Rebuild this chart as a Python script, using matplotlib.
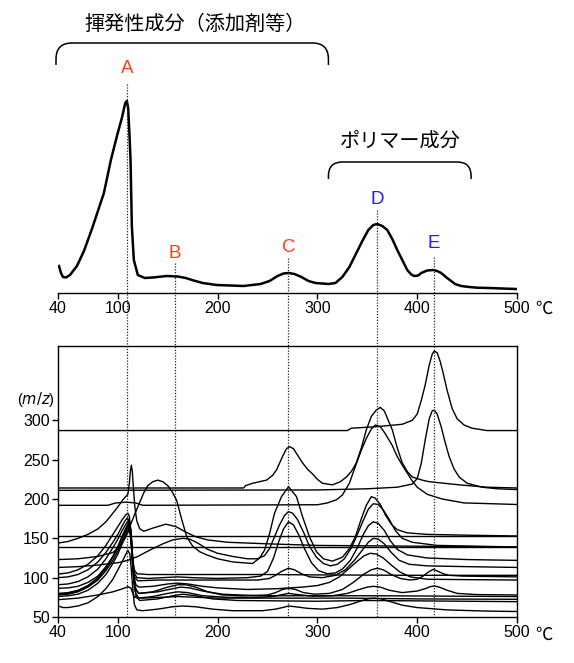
import matplotlib
matplotlib.use('Agg')
import matplotlib.pyplot as plt
from matplotlib.path import Path
from matplotlib.patches import PathPatch
from matplotlib.lines import Line2D
import matplotlib.transforms as mtransforms

plt.rcParams['font.family'] = ['Liberation Sans', 'Noto Sans CJK JP', 'DejaVu Sans']
JP = ['Noto Sans CJK JP', 'DejaVu Sans']

# ---------------- data ----------------
x_ticks = [40, 100, 200, 300, 400, 500]
y_ticks = [50, 100, 150, 200, 250, 300]

peak_labels = ['A', 'B', 'C', 'D', 'E']
peak_temps = [109, 157, 271, 360, 417]
peak_colors = ['#ff3c1e', '#ff3c1e', '#ff3c1e', '#1e1eff', '#1e1eff']

group_titles = ['揮発性成分（添加剤等）', 'ポリマー成分']
group_ranges = [(38, 311), (311, 454)]

# total ion curve (temperature, height)
top_curve = [(41, 27), (43, 20), (45, 16), (48, 15.5), (52, 18), (59, 27), (66, 42), (74, 64),
             (80, 82), (86, 100), (93, 133), (99.6, 159), (104, 175), (107.4, 190), (109, 192),
             (110.3, 185), (111.6, 159), (112.7, 133), (114, 67), (116, 33), (120, 18), (127, 15),
             (135, 15.5), (149, 17), (160, 16.5), (168, 15), (176, 12.5), (185, 10), (199, 8),
             (226, 7), (243, 9), (252, 12), (260, 17), (266, 19.5), (271, 20), (277, 19), (284, 16),
             (291, 12), (298, 10), (311, 9), (318, 10), (325, 16), (332, 26), (339, 40), (345, 52),
             (351, 63), (356, 68), (360, 69), (365, 67), (370, 63), (375, 54), (380, 43), (385, 33),
             (390, 23), (394, 18.5), (397, 17), (401, 17.5), (404, 20), (410, 22.5), (416, 23),
             (420, 22), (424, 20), (430, 15), (438, 9), (444, 7), (452, 6), (460, 5.3), (472, 5),
             (485, 4.5), (499, 4)]

# extracted ion traces (temperature, m/z offset)
mz286 = [(40, 287), (330, 287), (334, 290), (360, 292), (385, 295), (395, 300), (400, 308), (404, 325),
         (408, 345), (412, 370), (415, 384), (417, 388), (420, 386), (423, 375), (426, 360), (430, 338),
         (435, 315), (440, 302), (447, 294), (455, 290), (465, 288), (470, 287), (500, 287)]
mz214 = [(40, 214), (226, 214), (228, 217), (235, 220), (249, 224), (255, 230), (259, 237), (265, 254),
         (269, 264), (272, 266.5), (276, 264), (280, 256), (285, 246), (290, 238), (295, 232), (300, 225),
         (305, 220), (315, 218), (323, 222), (329, 228), (334, 235), (339, 246), (344, 265), (349, 288),
         (354, 305), (359, 313), (363, 316.5), (367, 312), (371, 300), (375, 288), (380, 265), (385, 246),
         (390, 235), (395, 228), (405, 224), (412, 222), (442, 218), (470, 215), (500, 214)]
mz211 = [(40, 211), (300, 211.5), (350, 213), (380, 215), (395, 219), (400, 226), (404, 245), (408, 275),
         (412, 302), (415, 312), (417, 313), (420, 308), (424, 292), (428, 272), (432, 254), (437, 238),
         (442, 228), (450, 220), (465, 215), (480, 213), (500, 212)]
mz192 = [(40, 192), (90, 192), (98, 195), (108, 196), (118, 195), (125, 192), (300, 192.7), (310, 195),
         (319, 199), (325, 205), (332, 220), (339, 245), (344, 262), (349, 277), (354, 289), (358, 294),
         (363, 292), (368, 283), (375, 268), (380, 254), (385, 243), (390, 233), (395, 223), (400, 215),
         (410, 206), (425, 200), (447, 195), (475, 194), (500, 193)]
mz_spike = [(40, 144), (50, 146), (60, 150), (70, 155), (80, 162), (88, 171), (95, 182), (100, 190),
            (105, 199), (110, 206), (111.5, 220), (112.5, 235), (113.5, 243), (114.5, 235), (115.5, 215),
            (117, 190), (119, 172), (122, 162), (126, 159), (135, 163), (148, 168), (158, 165), (168, 158),
            (178, 152), (190, 148), (210, 145), (250, 143), (300, 141), (400, 140), (500, 139)]
mz152 = [(40, 152.5), (500, 152.5)]
mz138 = [(40, 138.5), (500, 138.5)]
mz123 = [(40, 123), (60, 124), (80, 127), (95, 132), (102, 140), (108, 152), (112, 165), (117, 181),
         (122, 196), (126, 208), (130, 217), (135, 222), (140, 224), (145, 222), (150, 217), (154, 210),
         (159, 198), (164, 174), (169, 152), (175, 140), (182, 133), (189, 129), (200, 124), (215, 120),
         (235, 118), (242, 125), (247, 135), (252, 156), (257, 182), (264, 203), (271, 215.7), (279, 203),
         (285, 178), (292, 152), (299, 133), (306, 124), (315, 121), (325, 126), (332, 137), (338, 152),
         (344, 175), (349, 192), (354, 203), (358, 201), (363, 193), (368, 180), (374, 168), (380, 161),
         (390, 157), (410, 155), (450, 154), (500, 153)]
mz113 = [(40, 113), (60, 114), (80, 116), (100, 119), (110, 122), (120, 127), (132, 135), (145, 143),
         (155, 148), (165, 150), (172, 149), (180, 144), (190, 136), (200, 131), (215, 127), (230, 124),
         (240, 124), (247, 128), (252, 137), (257, 152), (262, 167), (267, 179), (271, 184), (275, 182),
         (280, 174), (286, 158), (292, 140), (299, 126), (306, 118), (313, 115), (320, 117), (327, 124),
         (334, 138), (340, 155), (346, 173), (351, 187), (356, 194), (361, 193), (366, 186), (372, 174),
         (378, 160), (385, 150), (395, 145), (420, 141), (460, 140), (500, 139)]
mz104 = [(40, 104.6), (50, 106), (60, 110), (70, 117), (80, 128), (88, 141), (95, 155), (100, 165),
         (104, 173), (108, 180), (110, 182), (111.5, 178), (113, 160), (114, 140), (115, 122), (116.5, 110),
         (119, 105), (130, 104), (160, 104), (200, 104), (250, 104), (300, 103.5), (400, 103), (500, 103)]
mz100 = [(40, 100), (50, 101), (60, 104), (70, 110), (80, 120), (88, 132), (95, 145), (100, 155),
         (104, 165), (107, 172), (109.5, 176), (111.5, 172), (113, 160), (114, 140), (115, 120), (116.5, 106),
         (119, 100), (130, 99), (160, 101), (175, 100), (200, 99), (230, 100), (243, 102), (250, 108),
         (256, 125), (261, 145), (266, 162), (271, 171), (276, 167), (281, 155), (287, 137), (294, 119),
         (301, 109), (310, 105), (318, 106), (325, 111), (333, 122), (340, 138), (346, 155), (351, 166),
         (356, 171), (361, 169), (367, 160), (373, 147), (380, 136), (390, 129), (410, 125), (450, 123),
         (500, 122)]
mz91 = [(40, 91), (50, 92), (60, 95), (70, 101), (80, 111), (88, 124), (95, 138), (100, 149), (104, 159),
        (108, 168), (110.5, 173), (112, 168), (113, 150), (114, 130), (115, 112), (117, 100), (120, 96),
        (140, 97), (200, 97), (240, 97), (252, 99), (258, 103), (264, 108), (271, 112), (277, 110), (284, 105),
        (292, 101), (305, 100), (318, 103), (328, 110), (337, 122), (345, 135), (351, 145), (356, 150),
        (361, 149), (367, 143), (374, 132), (382, 122), (392, 117), (410, 115), (450, 114), (500, 113)]
mz86 = [(40, 86.5), (50, 87), (60, 89), (70, 94), (80, 102), (88, 114), (95, 127), (100, 138), (104, 150),
        (108, 161), (111, 168), (112.5, 164), (114, 145), (115, 122), (116, 100), (118, 86), (121, 80),
        (135, 82), (150, 88), (160, 91), (168, 91), (178, 88), (190, 82), (205, 78), (225, 77), (250, 78),
        (258, 81), (265, 85), (271, 86.5), (278, 85), (286, 81), (297, 79), (312, 80), (325, 85), (336, 94),
        (346, 104), (354, 110), (360, 112), (366, 110), (374, 104), (383, 99), (393, 97), (400, 98),
        (406, 102), (411, 107), (416, 110.6), (421, 108), (426, 105), (432, 103), (445, 102), (500, 101)]
mz80 = [(40, 80), (50, 81), (60, 84), (70, 90), (80, 100), (88, 112), (95, 126), (100, 138), (104, 149),
        (108, 159), (110.5, 165), (112, 161), (113.5, 145), (114.5, 125), (116, 102), (118, 91), (121, 88),
        (135, 89), (150, 92), (160, 93), (170, 92), (185, 89), (200, 87), (230, 85), (260, 86), (285, 88),
        (300, 90), (312, 94), (322, 101), (331, 111), (340, 121), (347, 128), (353, 131), (359, 130),
        (366, 125), (374, 116), (383, 107), (393, 101), (410, 98), (450, 97.5), (500, 97)]
mz78 = [(40, 78), (50, 79), (60, 82), (70, 88), (80, 97), (88, 109), (95, 122), (100, 134), (104, 145),
        (108, 156), (111, 163), (112.5, 158), (114, 138), (115, 115), (116, 95), (118, 80), (121, 74),
        (135, 76), (150, 80), (160, 82), (170, 81), (185, 77), (210, 75), (240, 75), (255, 76), (263, 78),
        (271, 80), (280, 78.5), (295, 76.5), (315, 77), (330, 80), (342, 85), (350, 88), (356, 89),
        (363, 88), (372, 84), (385, 81), (400, 83), (408, 86), (413, 88.5), (417, 89.5), (422, 88),
        (430, 84), (440, 80), (460, 78.5), (500, 78)]
mz79 = [(40, 79), (50, 80), (60, 83), (70, 89), (80, 99), (88, 112), (95, 127), (100, 140), (104, 152),
        (108, 163), (110.5, 170), (112, 166), (113.5, 148), (114.5, 125), (116, 98), (118, 84), (121, 80),
        (140, 82), (155, 86), (163, 88), (172, 87), (185, 83), (205, 79), (240, 77), (300, 77), (360, 77),
        (430, 76.5), (500, 76)]
mz76 = [(40, 76), (50, 77), (60, 79), (70, 84), (80, 93), (88, 104), (95, 118), (100, 130), (104, 142),
        (108, 153), (111, 160), (112.5, 155), (114, 135), (115, 112), (116.5, 88), (118.5, 75), (122, 71),
        (140, 73), (155, 77), (165, 79), (178, 77), (195, 73), (220, 71), (260, 70.5), (300, 70), (350, 71),
        (400, 70.5), (500, 69.5)]
mz72 = [(40, 72), (60, 74), (80, 78), (95, 82), (105, 86), (110, 88.5), (113, 87), (115, 80), (117, 75),
        (125, 74), (160, 76), (200, 74), (260, 74), (330, 74), (400, 73), (500, 72.5)]
mz64 = [(40, 64), (45, 62), (50, 62), (60, 64), (70, 68), (80, 76), (88, 86), (95, 98), (100, 110),
        (105, 122), (110, 135), (112, 130), (113.5, 110), (115, 85), (116.5, 66), (119, 59), (125, 58),
        (140, 60), (155, 63), (165, 64), (178, 63), (195, 60), (215, 58), (245, 58), (258, 60), (265, 62),
        (271, 64), (278, 63), (290, 61), (305, 60), (320, 62), (333, 66), (345, 71), (352, 73.5), (358, 74),
        (364, 73), (372, 70), (385, 65), (400, 62), (430, 59), (470, 57.5), (500, 57)]

traces = [mz286, mz214, mz211, mz192, mz_spike, mz152, mz138, mz123, mz113, mz104, mz100,
          mz91, mz86, mz80, mz78, mz79, mz76, mz72, mz64]

# ---------------- layout ----------------
W, H = 574, 663
AX_L, AX_R = 58, 517
TOP_BASE = 293          # pixel row of the upper axis line
BOT_TOP, BOT_BASE = 346, 617
TICK_FS = 11.5

fig = plt.figure(figsize=(W / 100, H / 100), dpi=100)
ax_top = fig.add_axes([AX_L / W, (H - TOP_BASE) / H, (AX_R - AX_L) / W, TOP_BASE / H])
ax_bot = fig.add_axes([AX_L / W, (H - BOT_BASE) / H, (AX_R - AX_L) / W, (BOT_BASE - BOT_TOP) / H])

# ---- upper chart ----
ax_top.patch.set_alpha(0)
ax_top.set_xlim(40, 500)
ax_top.set_ylim(0, TOP_BASE)
for s in ['left', 'right', 'top']:
    ax_top.spines[s].set_visible(False)
ax_top.spines['bottom'].set_linewidth(1.0)
ax_top.set_yticks([])
ax_top.set_xticks(x_ticks)
ax_top.tick_params(axis='x', direction='out', length=4, width=1, labelsize=TICK_FS, pad=2)
tx, ty = zip(*top_curve)
ax_top.plot(tx, ty, color='black', lw=1.8, solid_joinstyle='round', zorder=3)

# brackets and group titles
def bracket(ax, x0, x1, y_top, y_end, r):
    verts = [(x0, y_end), (x0, y_top - r), (x0, y_top), (x0 + r, y_top),
             (x1 - r, y_top), (x1, y_top), (x1, y_top - r), (x1, y_end)]
    codes = [Path.MOVETO, Path.LINETO, Path.CURVE3, Path.CURVE3,
             Path.LINETO, Path.CURVE3, Path.CURVE3, Path.LINETO]
    ax.add_patch(PathPatch(Path(verts, codes), fill=False, lw=1.1, ec='black', clip_on=False))

bracket(ax_top, group_ranges[0][0], group_ranges[0][1], 250, 228, 16)
bracket(ax_top, group_ranges[1][0], group_ranges[1][1], 131, 114, 14)
ax_top.text(177, 269, group_titles[0], ha='center', va='center', fontsize=14.5, family=JP)
ax_top.text(383, 152, group_titles[1], ha='center', va='center', fontsize=14.5, family=JP)

label_h = [224.5, 40, 45, 93, 50]
line_start_h = [209, 30, 35, 83, 36]
for lab, T, c, lh in zip(peak_labels, peak_temps, peak_colors, label_h):
    ax_top.text(T, lh, lab, ha='center', va='center', color=c, fontsize=13.5)

ax_top.text(527, -16, '℃', ha='center', va='center', fontsize=12.5, family=JP, clip_on=False)

# dotted guide lines through both charts
trans = mtransforms.blended_transform_factory(ax_bot.transData, fig.transFigure)
for T, sh in zip(peak_temps, line_start_h):
    y0 = (H - TOP_BASE + sh) / H
    y1 = (H - BOT_BASE) / H
    fig.add_artist(Line2D([T, T], [y0, y1], transform=trans, color='#222222', lw=0.9,
                          linestyle=(0, (1, 1.3)), zorder=5))

# ---- lower chart ----
ax_bot.set_xlim(40, 500)
ax_bot.set_ylim(50, 394.5)
ax_bot.set_xticks(x_ticks)
ax_bot.set_yticks(y_ticks)
ax_bot.tick_params(direction='out', length=4, width=1, labelsize=TICK_FS, pad=2)
for s in ax_bot.spines.values():
    s.set_linewidth(1.0)
for tr in traces:
    x, y = zip(*tr)
    ax_bot.plot(x, y, color='black', lw=1.0, solid_joinstyle='round')
ax_bot.text(18, 326, '($\\mathit{m/z}$)', ha='center', va='center', fontsize=10.5, clip_on=False)
ax_bot.text(527, 27, '℃', ha='center', va='center', fontsize=12.5, family=JP, clip_on=False)

fig.savefig('out.png', dpi=100)
